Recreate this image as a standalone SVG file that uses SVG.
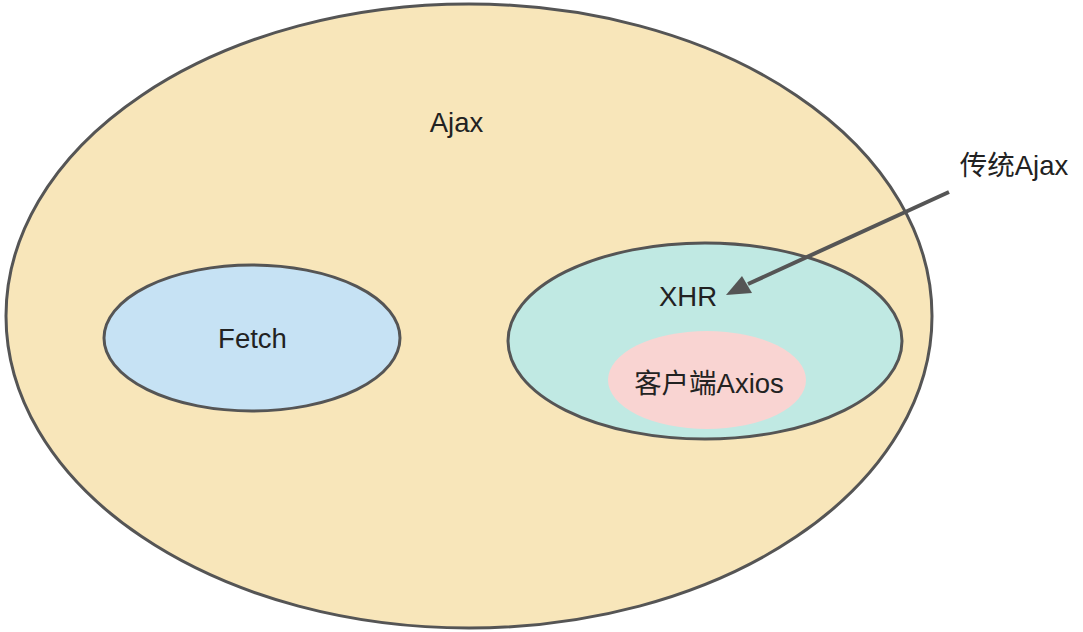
<svg xmlns="http://www.w3.org/2000/svg" width="1083" height="632" viewBox="0 0 1083 632">
<defs>
<style>
.e{stroke:#555;stroke-width:3}
.t{font-family:"Liberation Sans","Noto Sans CJK SC",sans-serif;font-size:27.5px;fill:#222;text-anchor:middle}
</style>
</defs>
<rect width="1083" height="632" fill="#fff"/>
<g id="ajax">
<ellipse class="e" cx="469" cy="316" rx="463" ry="312" fill="#F8E6BA"/>
<text class="t" x="456.5" y="131.5">Ajax</text>
</g>
<g id="fetch">
<ellipse class="e" cx="252" cy="338" rx="148" ry="73" fill="#C6E2F4"/>
<text class="t" x="252.5" y="348">Fetch</text>
</g>
<g id="xhr">
<ellipse class="e" cx="705" cy="341" rx="197" ry="98" fill="#C0E9E3"/>
<text class="t" x="688" y="306">XHR</text>
</g>
<g id="axios">
<ellipse cx="707" cy="380" rx="99" ry="49" fill="#F9D4D2"/>
<text class="t" x="709" y="392.5">客户端Axios</text>
</g>
<g id="label">
<text class="t" x="1014" y="175">传统Ajax</text>
</g>
<g id="connectors">
<line x1="949" y1="192" x2="748" y2="284" stroke="#555" stroke-width="4"/>
<path d="M726,295 L742,276 L752,293 z" fill="#555"/>
</g>
</svg>
